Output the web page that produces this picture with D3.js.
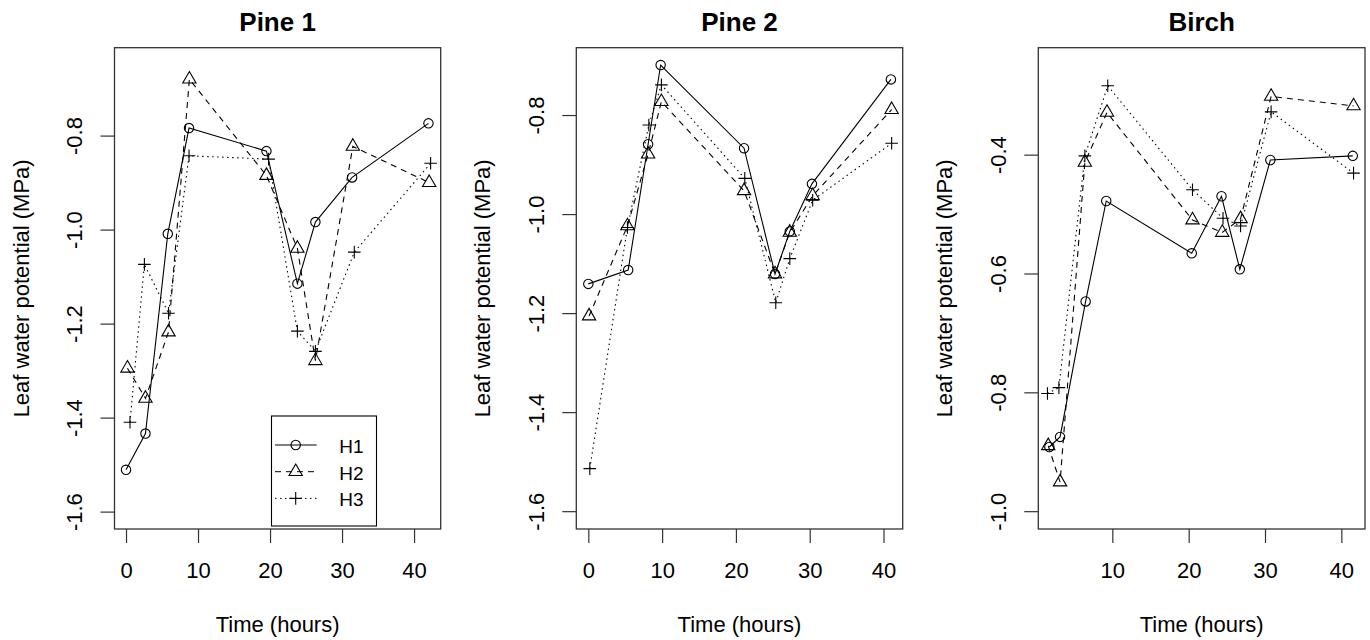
<!DOCTYPE html>
<html>
<head>
<meta charset="utf-8">
<script src="https://cdn.jsdelivr.net/npm/d3@7"></script>
<style>
body{margin:0;background:#fff}
svg{display:block;font-family:"Liberation Sans",Arial,sans-serif}
</style>
</head>
<body>
<svg id="graph"></svg>
<script>
// series names + panel titles
var seriesNames = ["H1","H2","H3"]
var panelTitles = ["Pine 1","Pine 2","Birch"]

// Pine 1 (time in hours, leaf water potential in MPa)
var pine1TimeH1 = [0, 2.7, 5.8, 8.75, 19.5, 23.8, 26.3, 31.4, 42.0]
var pine1ValH1  = [-1.511, -1.434, -1.009, -0.784, -0.833, -1.115, -0.984, -0.889, -0.774]
var pine1TimeH2 = [0.2, 2.7, 5.9, 8.8, 19.5, 23.8, 26.3, 31.5, 42.1]
var pine1ValH2  = [-1.295, -1.359, -1.218, -0.680, -0.885, -1.040, -1.279, -0.823, -0.900]
var pine1TimeH3 = [0.55, 2.55, 5.9, 8.75, 19.8, 23.8, 26.3, 31.7, 42.3]
var pine1ValH3  = [-1.410, -1.074, -1.178, -0.843, -0.850, -1.216, -1.259, -1.048, -0.859]

// Pine 2
var pine2TimeH1 = [0, 5.4, 8.1, 9.8, 21.1, 25.3, 27.3, 30.3, 41.0]
var pine2ValH1  = [-1.141, -1.113, -0.859, -0.699, -0.867, -1.121, -1.035, -0.939, -0.728]
var pine2TimeH2 = [0.1, 5.3, 8.1, 9.9, 21.1, 25.3, 27.3, 30.4, 41.1]
var pine2ValH2  = [-1.206, -1.024, -0.879, -0.773, -0.953, -1.121, -1.037, -0.963, -0.789]
var pine2TimeH3 = [0.2, 5.3, 8.2, 9.9, 21.2, 25.4, 27.3, 30.4, 41.1]
var pine2ValH3  = [-1.514, -1.027, -0.820, -0.739, -0.928, -1.179, -1.090, -0.972, -0.857]

// Birch
var birchTimeH1 = [1.75, 3.15, 6.5, 9.2, 20.4, 24.3, 26.7, 30.7, 41.5]
var birchValH1  = [-0.892, -0.875, -0.647, -0.478, -0.566, -0.470, -0.593, -0.409, -0.402]
var birchTimeH2 = [1.6, 3.15, 6.4, 9.3, 20.5, 24.4, 26.8, 30.8, 41.6]
var birchValH2  = [-0.890, -0.951, -0.413, -0.329, -0.510, -0.531, -0.508, -0.302, -0.318]
var birchTimeH3 = [1.5, 3.0, 6.4, 9.4, 20.5, 24.5, 26.8, 30.8, 41.6]
var birchValH3  = [-0.802, -0.792, -0.402, -0.284, -0.459, -0.507, -0.520, -0.328, -0.431]

// axis limits + ticks
var xLimPine1 = [-1.6, 43.7]
var yLimPine1 = [-1.637, -0.613]
var xLimPine2 = [-1.63, 42.6]
var yLimPine2 = [-1.636, -0.664]
var xLimBirch = [0.3, 43.1]
var yLimBirch = [-1.03, -0.22]
var xTicks = [0, 10, 20, 30, 40]
var yTicksPine = [-1.6, -1.4, -1.2, -1.0, -0.8]
var yTicksBirch = [-1.0, -0.8, -0.6, -0.4]

var screen = {width:1370,height:640}
var boxTop = 47.7, boxBottom = 529

var dashes = {H1:null, H2:"6,5", H3:"1.5,3.5"}

var zip = function(times,vals)
{
    return times.map(function(t,i){ return {t:t, v:vals[i]} })
}

var drawSymbol = function(g,name,x,y)
{
    if(name=="H1")
    {
        g.append("circle")
            .attr("cx",x).attr("cy",y).attr("r",4.7)
            .attr("fill","none").attr("stroke","#000").attr("stroke-width",1.1)
    }
    else if(name=="H2")
    {
        var xc = 4.94
        g.append("path")
            .attr("d","M"+x+","+(y-1.555*xc)+"L"+(x+1.347*xc)+","+(y+0.778*xc)+"L"+(x-1.347*xc)+","+(y+0.778*xc)+"Z")
            .attr("fill","none").attr("stroke","#000").attr("stroke-width",1.1)
    }
    else
    {
        var s = 6.3
        g.append("path")
            .attr("d","M"+(x-s)+","+y+"H"+(x+s)+"M"+x+","+(y-s)+"V"+(y+s))
            .attr("fill","none").attr("stroke","#000").attr("stroke-width",1.1)
    }
}

var drawPanel = function(svg,panel)
{
    var xScale = d3.scaleLinear()
        .domain(panel.xLim)
        .range([panel.left,panel.right])
    var yScale = d3.scaleLinear()
        .domain(panel.yLim)
        .range([boxBottom,boxTop])

    var g = svg.append("g")

    var line = d3.line()
        .x(function(d){ return xScale(d.t) })
        .y(function(d){ return yScale(d.v) })

    panel.series.forEach(function(s)
    {
        g.append("path")
            .datum(s.points)
            .attr("d",line)
            .attr("fill","none")
            .attr("stroke","#000")
            .attr("stroke-width",1.1)
            .attr("stroke-dasharray",dashes[s.name])
        s.points.forEach(function(p)
        {
            drawSymbol(g,s.name,xScale(p.t),yScale(p.v))
        })
    })

    //x-axis
    var xAxis = d3.axisBottom(xScale)
        .tickValues(panel.xTicks)
        .tickSize(14)
        .tickSizeOuter(0)
        .tickFormat(d3.format("d"))
    var gx = g.append("g")
        .attr("transform","translate(0,"+boxBottom+")")
        .call(xAxis)
        .attr("font-size",22)
        .attr("font-family",null)
        .attr("color","#000")
    gx.select(".domain").remove()
    gx.selectAll(".tick line").attr("stroke","#333").attr("stroke-width",1.2)
    gx.selectAll(".tick text").attr("y",49).attr("dy",0)

    //y-axis
    var yAxis = d3.axisLeft(yScale)
        .tickValues(panel.yTicks)
        .tickSize(14)
        .tickSizeOuter(0)
        .tickFormat(function(v){ return v.toFixed(1) })
    var gy = g.append("g")
        .attr("transform","translate("+panel.left+",0)")
        .call(yAxis)
        .attr("font-size",22)
        .attr("font-family",null)
        .attr("color","#000")
    gy.select(".domain").remove()
    gy.selectAll(".tick line").attr("stroke","#333").attr("stroke-width",1.2)
    gy.selectAll(".tick text")
        .attr("x",0)
        .attr("dy",0)
        .attr("text-anchor","middle")
        .attr("transform","translate(-32.8,0) rotate(-90)")

    //box
    g.append("rect")
        .attr("x",panel.left)
        .attr("y",boxTop)
        .attr("width",panel.right-panel.left)
        .attr("height",boxBottom-boxTop)
        .attr("fill","none")
        .attr("stroke","#333")
        .attr("stroke-width",1.3)

    var mid = (panel.left+panel.right)/2

    //title
    g.append("text")
        .text(panel.title)
        .attr("x",mid)
        .attr("y",31)
        .attr("text-anchor","middle")
        .attr("font-weight","bold")
        .attr("font-size",26)

    //x label
    g.append("text")
        .text("Time (hours)")
        .attr("x",mid)
        .attr("y",632)
        .attr("text-anchor","middle")
        .attr("font-size",22)

    //y label
    g.append("g")
        .attr("transform","translate("+(panel.left-86)+","+((boxTop+boxBottom)/2)+")")
        .append("text")
        .text("Leaf water potential (MPa)")
        .attr("text-anchor","middle")
        .attr("font-size",22)
        .attr("transform","rotate(-90)")
}

var drawLegend = function(svg)
{
    var legend = svg.append("g")
        .classed("legend",true)

    legend.append("rect")
        .attr("x",271.5)
        .attr("y",416)
        .attr("width",105)
        .attr("height",110)
        .attr("fill","#fff")
        .attr("stroke","#000")
        .attr("stroke-width",1.1)

    seriesNames.forEach(function(name,i)
    {
        var y = 445+i*26.7
        legend.append("line")
            .attr("x1",275).attr("x2",316.7)
            .attr("y1",y).attr("y2",y)
            .attr("stroke","#000")
            .attr("stroke-dasharray",dashes[name])
        drawSymbol(legend,name,295.7,y)
        legend.append("text")
            .text(name)
            .attr("x",339.3)
            .attr("y",y+8)
            .attr("font-size",19)
    })
}

var initGraph = function()
{
    var svg = d3.select("#graph")
        .attr("width",screen.width)
        .attr("height",screen.height)

    var panels = [
        {
            title:panelTitles[0], left:114.5, right:440.7,
            xLim:xLimPine1, yLim:yLimPine1, xTicks:xTicks, yTicks:yTicksPine,
            series:[
                {name:"H1", points:zip(pine1TimeH1,pine1ValH1)},
                {name:"H2", points:zip(pine1TimeH2,pine1ValH2)},
                {name:"H3", points:zip(pine1TimeH3,pine1ValH3)}
            ]
        },
        {
            title:panelTitles[1], left:576.3, right:902.7,
            xLim:xLimPine2, yLim:yLimPine2, xTicks:xTicks, yTicks:yTicksPine,
            series:[
                {name:"H1", points:zip(pine2TimeH1,pine2ValH1)},
                {name:"H2", points:zip(pine2TimeH2,pine2ValH2)},
                {name:"H3", points:zip(pine2TimeH3,pine2ValH3)}
            ]
        },
        {
            title:panelTitles[2], left:1038.3, right:1365,
            xLim:xLimBirch, yLim:yLimBirch,
            xTicks:xTicks.filter(function(t){ return t>=xLimBirch[0] }),
            yTicks:yTicksBirch,
            series:[
                {name:"H1", points:zip(birchTimeH1,birchValH1)},
                {name:"H2", points:zip(birchTimeH2,birchValH2)},
                {name:"H3", points:zip(birchTimeH3,birchValH3)}
            ]
        }
    ]

    panels.forEach(function(p){ drawPanel(svg,p) })
    drawLegend(svg)
}

initGraph()
</script>
</body>
</html>
